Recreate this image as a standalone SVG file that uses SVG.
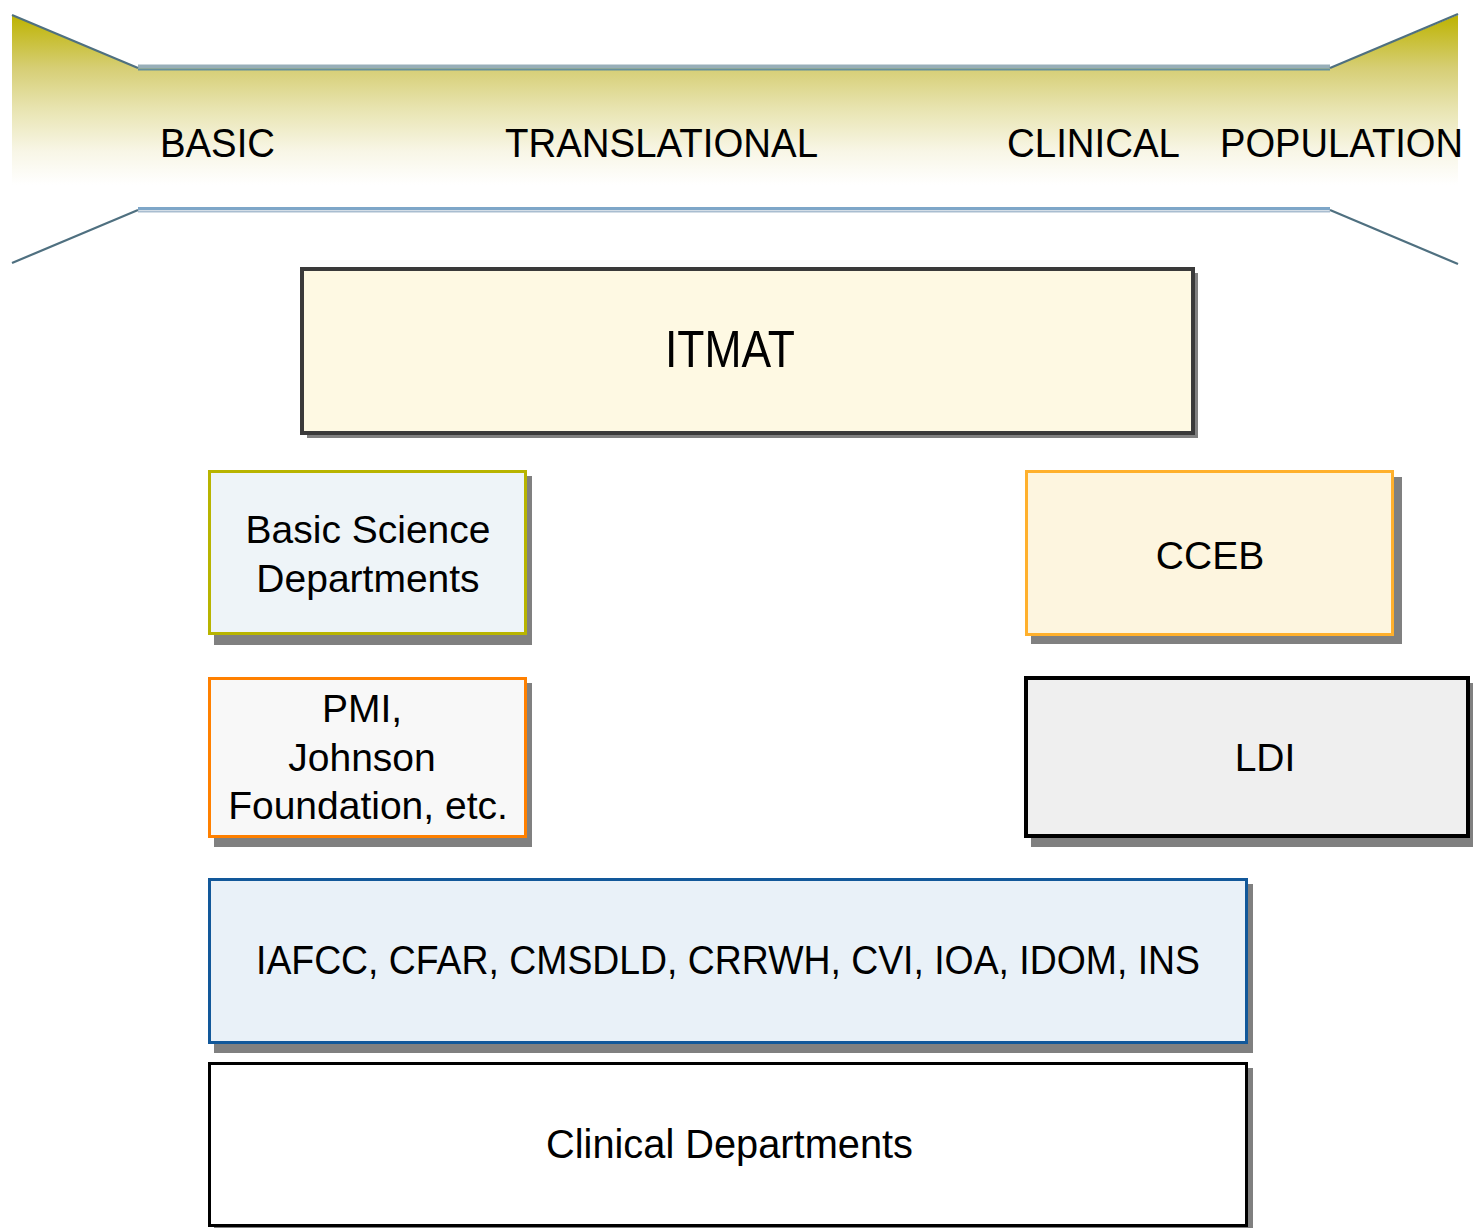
<svg xmlns="http://www.w3.org/2000/svg" width="1473" height="1228" viewBox="0 0 1473 1228">
<defs>
<linearGradient id="band" x1="0" y1="15" x2="0" y2="185" gradientUnits="userSpaceOnUse">
<stop offset="0" stop-color="#bdb300"/>
<stop offset="0.31" stop-color="#d6ce74"/>
<stop offset="0.55" stop-color="#e8e4b0"/>
<stop offset="0.8" stop-color="#f8f6e6"/>
<stop offset="1" stop-color="#ffffff"/>
</linearGradient>
</defs>
<style>
text{font-family:"Liberation Sans",Arial,sans-serif;fill:#000;}
.lbl{font-size:40px;}
.box{font-size:39px;text-anchor:middle;}
.sh{fill:#808080;}
.diag{stroke:#4f7080;stroke-width:2.2;fill:none;}
</style>
<rect width="1473" height="1228" fill="#ffffff"/>
<g id="banner">
<polygon points="12,15 138,68 1330,68 1458,15 1458,190 12,190" fill="url(#band)"/>
<line x1="138" y1="66.5" x2="1330" y2="66.5" stroke="#97aeb8" stroke-width="4"/>
<line x1="138" y1="69.5" x2="1330" y2="69.5" stroke="#658f9c" stroke-width="2"/>
<line x1="138" y1="208.5" x2="1330" y2="208.5" stroke="#7ea6c8" stroke-width="3"/>
<line x1="138" y1="211.5" x2="1330" y2="211.5" stroke="#a9bdd0" stroke-width="2"/>
<line class="diag" x1="12" y1="15" x2="138" y2="68"/>
<line class="diag" x1="1330" y1="68" x2="1458" y2="14"/>
<line class="diag" x1="12" y1="263" x2="138" y2="210"/>
<line class="diag" x1="1330" y1="210" x2="1458" y2="264"/>
<text class="lbl" x="160" y="157" textLength="115" lengthAdjust="spacingAndGlyphs">BASIC</text>
<text class="lbl" x="505" y="157" textLength="313" lengthAdjust="spacingAndGlyphs">TRANSLATIONAL</text>
<text class="lbl" x="1007" y="157" textLength="173" lengthAdjust="spacingAndGlyphs">CLINICAL</text>
<text class="lbl" x="1220" y="157" textLength="243" lengthAdjust="spacingAndGlyphs">POPULATION</text>
</g>
<g id="connectors"></g>
<g id="itmat">
<rect class="sh" x="307" y="273" width="891" height="165"/>
<rect x="302" y="269" width="891" height="164" fill="#fef9e3" stroke="#3a3a3a" stroke-width="4"/>
<text x="665" y="367" font-size="52" textLength="130" lengthAdjust="spacingAndGlyphs">ITMAT</text>
</g>
<g id="basic-science">
<rect class="sh" x="214" y="476" width="318" height="169"/>
<rect x="209.5" y="471.5" width="316" height="162" fill="#eef4f8" stroke="#b8b400" stroke-width="3"/>
<text class="box" x="368" y="543">Basic Science</text>
<text class="box" x="368" y="592">Departments</text>
</g>
<g id="pmi">
<rect class="sh" x="214" y="683" width="318" height="164"/>
<rect x="209.5" y="678.5" width="316" height="158" fill="#f8f8f8" stroke="#ff8000" stroke-width="3"/>
<text class="box" x="362" y="722">PMI,</text>
<text class="box" x="362" y="771">Johnson</text>
<text class="box" x="368" y="819">Foundation, etc.</text>
</g>
<g id="cceb">
<rect class="sh" x="1031" y="477" width="371" height="167"/>
<rect x="1026.5" y="471.5" width="366" height="163" fill="#fdf5df" stroke="#ffb02c" stroke-width="3"/>
<text class="box" x="1210" y="569">CCEB</text>
</g>
<g id="ldi">
<rect class="sh" x="1031" y="683" width="445" height="164"/>
<rect x="1026" y="678" width="442" height="158" fill="#efefef" stroke="#000" stroke-width="4"/>
<text class="box" x="1265" y="771">LDI</text>
</g>
<g id="centers">
<rect class="sh" x="214" y="884" width="1039" height="169"/>
<rect x="209.5" y="879.5" width="1037" height="163" fill="#e9f1f8" stroke="#12589a" stroke-width="3"/>
<text x="256" y="974" font-size="40" textLength="944" lengthAdjust="spacingAndGlyphs">IAFCC, CFAR, CMSDLD, CRRWH, CVI, IOA, IDOM, INS</text>
</g>
<g id="clinical">
<rect class="sh" x="214" y="1068" width="1039" height="165"/>
<rect x="209.5" y="1063.5" width="1037" height="162" fill="#ffffff" stroke="#000" stroke-width="3"/>
<text x="546" y="1158" font-size="40" textLength="367" lengthAdjust="spacingAndGlyphs">Clinical Departments</text>
</g>
</svg>
